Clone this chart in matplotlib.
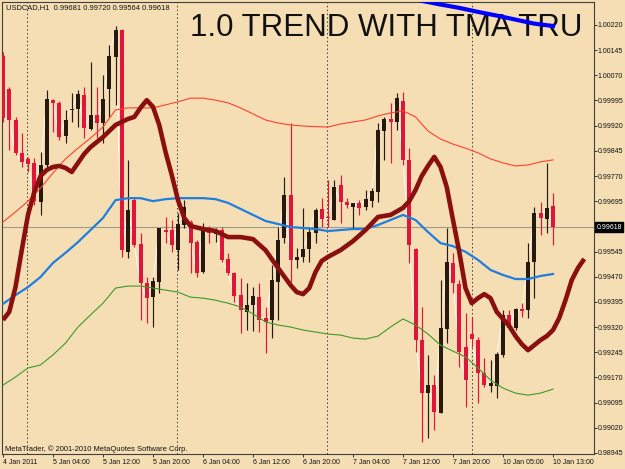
import numpy as np
import matplotlib
matplotlib.use("Agg")
import matplotlib.pyplot as plt
import matplotlib.transforms as mtransforms

# USDCAD H1 candles, bar 0 = 4 Jan 2011 20:00
opens = [
    1.00128, 1.00029, 0.99937, 0.99839, 0.99821, 0.99809, 0.99692, 0.99803, 0.99996, 0.99988,
    0.99889, 0.99967, 0.99970, 1.00011, 0.99910, 0.99952, 0.99928, 1.00029, 1.00125, 1.00205,
    0.99544, 0.99698, 0.99567, 0.99451, 0.99409, 0.99454, 0.99609, 0.99609, 0.99549, 0.99624,
    0.99633, 0.99573, 0.99484, 0.99609, 0.99597, 0.99609, 0.99523, 0.99481, 0.99415, 0.99365,
    0.99386, 0.99409, 0.99347, 0.99341, 0.99454, 0.99585, 0.99713, 0.99520, 0.99529, 0.99552,
    0.99600, 0.99672, 0.99648, 0.99639, 0.99743, 0.99692, 0.99678, 0.99690, 0.99678, 0.99695,
    0.99722, 0.99904, 0.99940, 0.99931, 0.99993, 0.99818, 0.99552, 0.99281, 0.99123, 0.99147,
    0.99064, 0.99314, 0.99511, 0.99448, 0.99260, 0.99299, 0.99281, 0.99183, 0.99144, 0.99144,
    0.99236, 0.99356, 0.99317, 0.99374, 0.99371, 0.99514, 0.99660, 0.99642, 0.99681]
highs = [
    1.00140, 1.00035, 0.99946, 0.99898, 0.99827, 0.99824, 0.99842, 1.00026, 0.99999, 0.99993,
    0.99967, 1.00017, 1.00026, 1.00035, 1.00110, 1.00035, 1.00071, 1.00160, 1.00217, 1.00208,
    0.99818, 0.99707, 0.99600, 0.99469, 0.99469, 0.99615, 0.99648, 0.99639, 0.99660, 0.99698,
    0.99639, 0.99579, 0.99630, 0.99621, 0.99615, 0.99618, 0.99541, 0.99484, 0.99466, 0.99451,
    0.99439, 0.99451, 0.99380, 0.99505, 0.99618, 0.99767, 0.99928, 0.99555, 0.99675, 0.99618,
    0.99675, 0.99704, 0.99758, 0.99758, 0.99773, 0.99704, 0.99690, 0.99698, 0.99728, 0.99734,
    0.99928, 0.99946, 0.99988, 1.00017, 1.00020, 0.99853, 0.99555, 0.99380, 0.99236, 0.99177,
    0.99460, 0.99615, 0.99541, 0.99460, 0.99362, 0.99350, 0.99290, 0.99228, 0.99222, 0.99245,
    0.99371, 0.99371, 0.99377, 0.99392, 0.99570, 0.99678, 0.99692, 0.99809, 0.99720]
lows = [
    0.99931, 0.99848, 0.99833, 0.99797, 0.99782, 0.99684, 0.99654, 0.99797, 0.99901, 0.99877,
    0.99868, 0.99931, 0.99916, 0.99883, 0.99907, 0.99883, 0.99868, 0.99946, 0.99982, 0.99529,
    0.99526, 0.99558, 0.99341, 0.99332, 0.99320, 0.99421, 0.99570, 0.99544, 0.99490, 0.99615,
    0.99481, 0.99469, 0.99481, 0.99570, 0.99573, 0.99514, 0.99475, 0.99394, 0.99302, 0.99311,
    0.99308, 0.99305, 0.99242, 0.99287, 0.99341, 0.99570, 0.99454, 0.99496, 0.99514, 0.99514,
    0.99570, 0.99618, 0.99618, 0.99639, 0.99630, 0.99675, 0.99615, 0.99654, 0.99669, 0.99678,
    0.99692, 0.99818, 0.99809, 0.99907, 0.99803, 0.99511, 0.99245, 0.98977, 0.98989, 0.99013,
    0.99064, 0.99272, 0.99421, 0.99201, 0.99082, 0.99260, 0.99093, 0.99141, 0.99126, 0.99108,
    0.99231, 0.99311, 0.99311, 0.99350, 0.99347, 0.99406, 0.99594, 0.99600, 0.99564]
closes = [
    0.99943, 0.99937, 0.99839, 0.99812, 0.99806, 0.99695, 0.99803, 0.99999, 0.99988, 0.99886,
    0.99937, 0.99970, 1.00014, 0.99913, 0.99952, 0.99928, 0.99999, 1.00128, 1.00205, 0.99549,
    0.99669, 0.99564, 0.99451, 0.99406, 0.99457, 0.99615, 0.99603, 0.99564, 0.99627, 0.99678,
    0.99570, 0.99481, 0.99615, 0.99600, 0.99606, 0.99520, 0.99481, 0.99412, 0.99371, 0.99386,
    0.99412, 0.99341, 0.99335, 0.99460, 0.99579, 0.99713, 0.99520, 0.99529, 0.99552, 0.99603,
    0.99669, 0.99642, 0.99645, 0.99737, 0.99692, 0.99684, 0.99690, 0.99675, 0.99701, 0.99725,
    0.99907, 0.99940, 0.99931, 1.00002, 0.99818, 0.99564, 0.99281, 0.99123, 0.99147, 0.99067,
    0.99317, 0.99514, 0.99451, 0.99245, 0.99162, 0.99284, 0.99183, 0.99147, 0.99153, 0.99239,
    0.99356, 0.99317, 0.99374, 0.99368, 0.99514, 0.99660, 0.99645, 0.99675, 0.99618]

# TMA bands, read every second bar
band_bars = list(range(0, 89, 2))
upper_band = [
    0.99633, 0.99663, 0.99695, 0.99734, 0.99779, 0.99821, 0.99853, 0.99883, 0.99916, 0.99967,
    0.99973, 0.99973, 0.99973, 0.99982, 0.99991, 1.00002, 1.00002, 0.99996, 0.99988, 0.99973,
    0.99955, 0.99937, 0.99928, 0.99922, 0.99919, 0.99917, 0.99916, 0.99925, 0.99931, 0.99937,
    0.99949, 0.99958, 0.99964, 0.99946, 0.99904, 0.99880, 0.99865, 0.99853, 0.99839, 0.99821,
    0.99809, 0.99800, 0.99803, 0.99812, 0.99818]
middle_line = [
    0.99389, 0.99415, 0.99439, 0.99469, 0.99511, 0.99541, 0.99573, 0.99609, 0.99645, 0.99698,
    0.99704, 0.99704, 0.99695, 0.99701, 0.99704, 0.99704, 0.99704, 0.99701, 0.99690, 0.99672,
    0.99654, 0.99636, 0.99627, 0.99618, 0.99615, 0.99612, 0.99606, 0.99609, 0.99612, 0.99612,
    0.99624, 0.99639, 0.99654, 0.99639, 0.99603, 0.99570, 0.99561, 0.99544, 0.99520, 0.99490,
    0.99475, 0.99463, 0.99463, 0.99472, 0.99478]
lower_band = [
    0.99147, 0.99171, 0.99198, 0.99207, 0.99237, 0.99272, 0.99320, 0.99356, 0.99391, 0.99436,
    0.99442, 0.99442, 0.99436, 0.99430, 0.99424, 0.99409, 0.99406, 0.99400, 0.99391, 0.99380,
    0.99359, 0.99335, 0.99326, 0.99320, 0.99311, 0.99305, 0.99299, 0.99296, 0.99287, 0.99284,
    0.99293, 0.99320, 0.99344, 0.99326, 0.99299, 0.99266, 0.99248, 0.99231, 0.99198, 0.99162,
    0.99138, 0.99123, 0.99117, 0.99123, 0.99135]

# thick trend line
trend_bars = [0, 1, 2, 3, 4, 5, 6, 7, 8, 9, 10, 11, 12, 13, 14, 16, 18, 20, 21, 22, 23, 24, 25,
              26, 27, 28, 29, 30, 32, 34, 36, 38, 40, 42, 44, 46, 47, 48, 49, 50, 51, 52, 54, 56,
              58, 60, 62, 64, 65, 66, 67, 68, 69, 70, 71, 72, 73, 74, 75, 76, 77, 78, 79, 80, 81,
              82, 83, 84, 85, 86, 87, 88, 89, 90, 91, 92, 93]
trend_vals = [
    0.99341, 0.99365, 0.99439, 0.99549, 0.99654, 0.99722, 0.99770, 0.99788, 0.99797, 0.99800,
    0.99794, 0.99782, 0.99809, 0.99836, 0.99856, 0.99886, 0.99922, 0.99940, 0.99946, 0.99973,
    0.99996, 0.99976, 0.99922, 0.99842, 0.99773, 0.99698, 0.99645, 0.99621, 0.99612, 0.99606,
    0.99588, 0.99588, 0.99582, 0.99549, 0.99496, 0.99445, 0.99424, 0.99418, 0.99436, 0.99484,
    0.99517, 0.99529, 0.99549, 0.99576, 0.99609, 0.99648, 0.99654, 0.99675, 0.99695, 0.99728,
    0.99770, 0.99800, 0.99827, 0.99797, 0.99737, 0.99639, 0.99544, 0.99436, 0.99391, 0.99406,
    0.99418, 0.99406, 0.99365, 0.99344, 0.99323, 0.99293, 0.99269, 0.99251, 0.99266, 0.99281,
    0.99293, 0.99311, 0.99347, 0.99400, 0.99460, 0.99496, 0.99523]

# blue line at the top
top_bars = [67, 70, 73, 76, 79, 82, 85, 88]
top_vals = [1.00292, 1.00281, 1.00271, 1.00259, 1.00248, 1.00236, 1.00224, 1.00217]

time_bars = [0, 8, 16, 24, 32, 40, 48, 56, 64, 72, 80, 88]
time_labels = ["4 Jan 2011", "5 Jan 04:00", "5 Jan 12:00", "5 Jan 20:00", "6 Jan 04:00",
               "6 Jan 12:00", "6 Jan 20:00", "7 Jan 04:00", "7 Jan 12:00", "7 Jan 20:00",
               "10 Jan 05:00", "10 Jan 13:00"]
day_separators = [3.85, 27.85, 51.85, 75.0]
price_ticks = [1.00220, 1.00145, 1.00070, 0.99995, 0.99920, 0.99845, 0.99770, 0.99695,
               0.99545, 0.99470, 0.99395, 0.99320, 0.99245, 0.99170, 0.99095, 0.99020, 0.98945]
last_price = 0.99618

bg = "#f5deb3"
bull_col = "#27190f"
bear_col = "#e0153a"
font = "Liberation Sans"
small = 5.0

fig = plt.figure(figsize=(6.25, 4.69), dpi=100, facecolor=bg)
ax = fig.add_axes([0.00368, 0.03134, 0.94624, 0.96439], facecolor=bg)

x = np.arange(len(opens))
o, h, l, c = (np.array(v) for v in (opens, highs, lows, closes))
up = c >= o

ax.plot(x, c, color="white", lw=0.6, zorder=2)
ax.vlines(x[up], l[up], h[up], color=bull_col, lw=0.85, zorder=3)
ax.vlines(x[~up], l[~up], h[~up], color=bear_col, lw=0.85, zorder=3)
body_lo = np.minimum(o, c)
body_h = np.maximum(np.abs(c - o), 0.00003)
ax.bar(x[up], body_h[up], bottom=body_lo[up], width=0.64, color=bull_col, linewidth=0, zorder=4)
ax.bar(x[~up], body_h[~up], bottom=body_lo[~up], width=0.64, color=bear_col, linewidth=0, zorder=4)

ax.axhline(last_price, color="#a09b8e", lw=0.8, zorder=1)
for s in day_separators:
    ax.axvline(s, color="#3a3a3a", lw=0.7, ls=(0, (1.5, 2.5)), zorder=1)

ax.plot(band_bars, upper_band, color="#ff4030", lw=0.8, zorder=5)
ax.plot(band_bars, lower_band, color="#3c9a2c", lw=0.8, zorder=5)
ax.plot(band_bars, middle_line, color="#1e7fe0", lw=1.6, zorder=5)
ax.plot(trend_bars, trend_vals, color="#8a1010", lw=3.3, zorder=6, solid_capstyle="butt")
ax.plot(top_bars, top_vals, color="#0000ff", lw=3.0, zorder=6)

ax.set_xlim(-0.112, 94.51)
ax.set_ylim(0.989407, 1.002885)

ax.set_xticks(time_bars)
ax.set_xticklabels(time_labels, fontsize=small, family=font, ha="left", color="#111111")
ax.yaxis.tick_right()
ax.set_yticks(price_ticks)
ax.set_yticklabels(["%.5f" % p for p in price_ticks], fontsize=small, family=font, color="#111111")
ax.tick_params(axis="x", direction="out", length=2.2, width=0.7, pad=1.5, color="#333333")
ax.tick_params(axis="y", direction="out", length=2.2, width=0.7, pad=0.8, color="#333333")
for sp in ax.spines.values():
    sp.set_color("#404040")
    sp.set_linewidth(0.8)

trans = mtransforms.blended_transform_factory(ax.transAxes, ax.transData)
ax.text(1.0045, last_price, "%.5f" % last_price, transform=trans, ha="left", va="center",
        fontsize=small, family=font, color="white", clip_on=False,
        bbox=dict(boxstyle="square,pad=0.2", fc="black", ec="black"))

ax.text(0.006, 0.988, "USDCAD,H1  0.99681 0.99720 0.99564 0.99618", transform=ax.transAxes,
        ha="left", va="center", fontsize=5.4, family=font, color="#111111", zorder=7)
ax.text(0.0046, 0.0117, "MetaTrader, \u00a9 2001-2010 MetaQuotes Software Corp.", transform=ax.transAxes,
        ha="left", va="center", fontsize=5.4, family=font, color="#111111", zorder=7)
ax.text(0.3174, 0.9248, "1.0 TREND WITH TMA TRU", transform=ax.transAxes, ha="left", va="baseline",
        fontsize=22.5, family=font, color="#111111", zorder=5, clip_on=True)

fig.savefig("out.png", dpi=100, facecolor=bg)
